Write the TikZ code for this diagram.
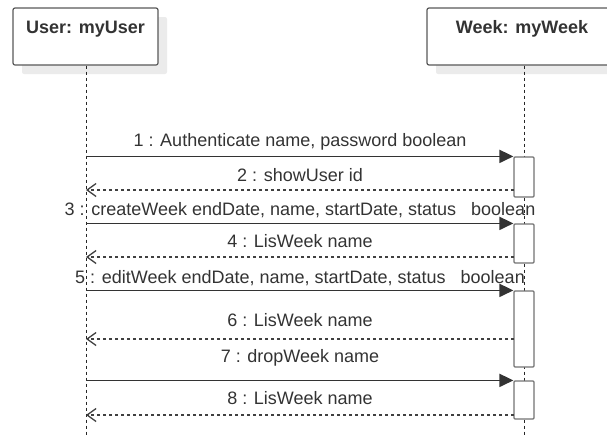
\documentclass[tikz,border=0pt]{standalone}
\usepackage{fontspec}
\setmainfont{Liberation Sans}
\usetikzlibrary{arrows.meta,shadows}

\begin{document}
\begin{tikzpicture}[
  x=1pt, y=-1pt,
  font=\fontsize{18}{21}\selectfont,
  text=black!80,
  head/.style={draw=black!65, line width=1.2pt, rounded corners=2pt, fill=white,
    minimum height=57pt,
    drop shadow={fill=black!8, opacity=1, shadow xshift=9pt, shadow yshift=-9pt}},
  htext/.style={font=\fontsize{18}{21}\selectfont\bfseries, anchor=base},
  life/.style={black!85, line width=1pt, dash pattern=on 3pt off 3pt},
  act/.style={draw=black!55, line width=1.2pt, fill=white, rounded corners=1pt,
    minimum width=20pt, inner sep=0pt},
  msg/.style={anchor=base, inner sep=0pt},
  sync/.style={-{Triangle[length=14pt,width=13pt]}, black!80, line width=1.8pt},
  ret/.style={-{Straight Barb[length=9pt,width=13pt]}, black!75, line width=1.3pt,
    dash pattern=on 3pt off 3pt}
]
\useasboundingbox (0,0) rectangle (607,437);
\clip (0,0) rectangle (607,437);

% lifeline heads
\node[head, minimum width=145pt] (user) at (85.5,36.5) {};
\node[head, minimum width=194pt] (week) at (524,36.5) {};
\node[htext] (userTxt) at (85.5,33) {User: myUser};
\node[htext] (weekTxt) at (522,33) {Week: myWeek};

% lifelines
\coordinate (userEnd) at (86,437);
\coordinate (weekEnd) at (524,437);
\draw[life] (user.south -| userEnd) -- (userEnd);
\draw[life] (week.south) -- (weekEnd);

% activations on myWeek
\node[act, minimum height=40pt] (a1) at (524,177) {};
\node[act, minimum height=39pt] (a2) at (524,243.5) {};
\node[act, minimum height=76pt] (a3) at (524,329) {};
\node[act, minimum height=38pt] (a4) at (524,400) {};

% return points
\coordinate (r2) at (514,190);
\coordinate (r4) at (514,257);
\coordinate (r6) at (514,339);
\coordinate (r8) at (514,415);

% messages
\node[msg] (m1) at (300,146) {1 : Authenticate name, password boolean};
\draw[sync] (userEnd |- a1.north west) -- (a1.north west);
\node[msg] (m2) at (300,181) {2 : showUser id};
\draw[ret] (r2) -- (r2 -| userEnd);

\node[msg] (m3) at (300,215) {3 : createWeek endDate, name, startDate, status\ \ \ boolean};
\draw[sync] (userEnd |- a2.north west) -- (a2.north west);
\node[msg] (m4) at (300,247) {4 : LisWeek name};
\draw[ret] (r4) -- (r4 -| userEnd);

\node[msg] (m5) at (300,283) {5 : editWeek endDate, name, startDate, status\ \ \ boolean};
\draw[sync] (userEnd |- a3.north west) -- (a3.north west);
\node[msg] (m6) at (300,326) {6 : LisWeek name};
\draw[ret] (r6) -- (r6 -| userEnd);

\node[msg] (m7) at (300,362) {7 : dropWeek name};
\draw[sync] (userEnd |- a4.north west) -- (a4.north west);
\node[msg] (m8) at (300,404) {8 : LisWeek name};
\draw[ret] (r8) -- (r8 -| userEnd);

\end{tikzpicture}
\end{document}
